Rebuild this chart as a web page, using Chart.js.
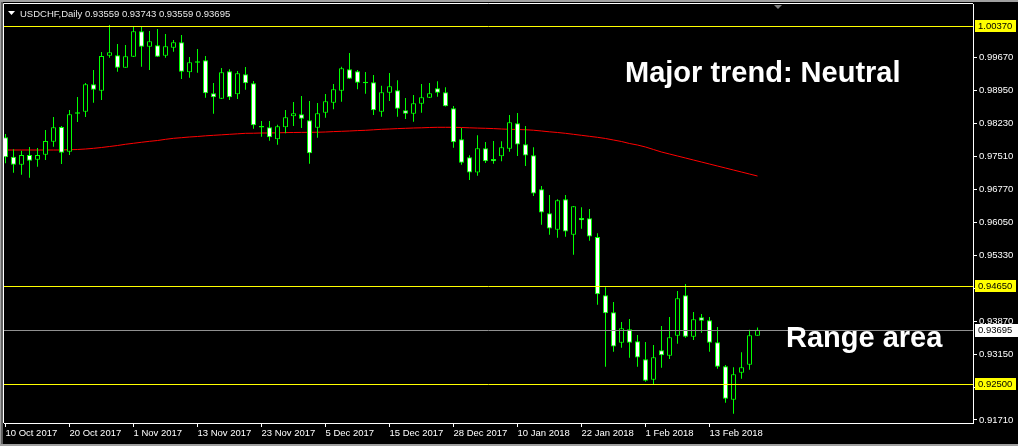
<!DOCTYPE html>
<html>
<head>
<meta charset="utf-8">
<script src="https://cdn.jsdelivr.net/npm/chart.js@4.4.0/dist/chart.umd.min.js"></script>
<style>
  html, body { margin: 0; padding: 0; background: #000; overflow: hidden; }
  #graficoVelas { display: block; }
</style>
</head>
<body>
<canvas id="graficoVelas" width="1018" height="446"></canvas>
<script>
// USDCHF daily, one value per bar (10 Oct 2017 .. 21 Feb 2018)
const opens = [
  0.97923, 0.97497, 0.97321, 0.97534, 0.97431, 0.97541, 0.97827, 0.98150, 0.97607, 0.98475,
  0.98486, 0.99088, 0.98948, 0.99717, 0.99726, 0.99453, 0.99695, 1.00254, 0.99915, 0.99946,
  0.99717, 0.99893, 1.00012, 0.99352, 0.99596, 0.99616, 0.98891, 0.98772, 0.99374, 0.98869,
  0.99308, 0.99110, 0.98170, 0.98143, 0.97879, 0.98143, 0.98385, 0.98429, 0.98297, 0.98134,
  0.98464, 0.98684, 0.98948, 0.99418, 0.99374, 0.99145, 0.99132, 0.98486, 0.98904, 0.98957,
  0.98517, 0.98442, 0.98662, 0.98794, 0.99000, 0.98913, 0.98561, 0.97879, 0.97484, 0.97150,
  0.97682, 0.97446, 0.97506, 0.97673, 0.98231, 0.97770, 0.97528, 0.96780, 0.96253, 0.95892,
  0.96560, 0.95782, 0.96149, 0.96143, 0.95732, 0.94450, 0.94076, 0.93408, 0.93703, 0.93439,
  0.93043, 0.92595, 0.93241, 0.93122, 0.93562, 0.94450, 0.93540, 0.93966, 0.93900, 0.93417,
  0.92889, 0.92155, 0.92749, 0.92924, 0.93559
];
const highs = [
  0.97996, 0.97660, 0.97629, 0.97710, 0.97688, 0.98084, 0.98370, 0.98172, 0.98524, 0.98809,
  0.99117, 0.99403, 0.99799, 1.00392, 0.99974, 0.99952, 1.00355, 1.00355, 1.00260, 1.00304,
  1.00194, 1.00062, 1.00172, 0.99689, 0.99864, 0.99711, 0.99117, 0.99447, 0.99418, 0.99381,
  0.99469, 0.99161, 0.98282, 0.98282, 0.98200, 0.98524, 0.98699, 0.98831, 0.98721, 0.98677,
  0.98875, 0.99095, 0.99475, 0.99777, 0.99403, 0.99359, 0.99293, 0.99058, 0.99337, 0.99176,
  0.98787, 0.98853, 0.99095, 0.99117, 0.99154, 0.99022, 0.98611, 0.98128, 0.97528, 0.97967,
  0.97820, 0.97842, 0.97835, 0.98414, 0.98458, 0.98172, 0.97704, 0.96853, 0.96655, 0.96560,
  0.96655, 0.96413, 0.96384, 0.96347, 0.95813, 0.94626, 0.94303, 0.93863, 0.93929, 0.93577,
  0.93423, 0.93358, 0.93775, 0.93973, 0.94545, 0.94698, 0.94083, 0.94039, 0.93973, 0.93753,
  0.92918, 0.92867, 0.93197, 0.93694, 0.93743
];
const lows = [
  0.97352, 0.97145, 0.97101, 0.97035, 0.97277, 0.97424, 0.97717, 0.97336, 0.97534, 0.98260,
  0.98370, 0.98684, 0.98743, 0.99673, 0.99365, 0.99450, 0.99690, 0.99475, 0.99403, 0.99690,
  0.99673, 0.99805, 0.99205, 0.99233, 0.99343, 0.98794, 0.98442, 0.98768, 0.98743, 0.98765,
  0.98970, 0.98112, 0.97937, 0.97849, 0.97761, 0.98011, 0.98172, 0.98128, 0.97343, 0.97915,
  0.98354, 0.98539, 0.98706, 0.99205, 0.98979, 0.98882, 0.98414, 0.98376, 0.98721, 0.98376,
  0.98326, 0.98266, 0.98464, 0.98790, 0.98816, 0.98600, 0.97695, 0.97321, 0.96985, 0.97079,
  0.97358, 0.97343, 0.97396, 0.97607, 0.97512, 0.97292, 0.96633, 0.96002, 0.95782, 0.95716,
  0.95738, 0.95343, 0.95914, 0.95650, 0.94243, 0.92880, 0.93210, 0.93298, 0.93078, 0.92880,
  0.92551, 0.92500, 0.92858, 0.93050, 0.93386, 0.93518, 0.93467, 0.93628, 0.93210, 0.92836,
  0.92089, 0.91847, 0.92617, 0.92815, 0.93559
];
const closes = [
  0.97484, 0.97321, 0.97534, 0.97409, 0.97534, 0.97842, 0.98143, 0.97585, 0.98429, 0.98442,
  0.99088, 0.98970, 0.99711, 0.99792, 0.99453, 0.99704, 1.00254, 0.99915, 1.00034, 0.99695,
  0.99924, 1.00012, 0.99365, 0.99572, 0.99563, 0.98891, 0.98803, 0.99352, 0.98803, 0.99330,
  0.99110, 0.98187, 0.98137, 0.97923, 0.98165, 0.98363, 0.98451, 0.98332, 0.97572, 0.98451,
  0.98715, 0.98979, 0.99440, 0.99212, 0.99124, 0.99112, 0.98517, 0.98913, 0.99044, 0.98552,
  0.98442, 0.98671, 0.98803, 0.98891, 0.98904, 0.98605, 0.97813, 0.97365, 0.97150, 0.97682,
  0.97396, 0.97396, 0.97704, 0.98253, 0.97765, 0.97523, 0.96688, 0.96270, 0.95918, 0.96538,
  0.95853, 0.96406, 0.96099, 0.95743, 0.94472, 0.94054, 0.93325, 0.93725, 0.93408, 0.93083,
  0.92573, 0.93087, 0.93131, 0.93527, 0.94384, 0.93540, 0.93922, 0.93892, 0.93408, 0.92880,
  0.92177, 0.92713, 0.92867, 0.93571, 0.93695
];
// moving average (red line)
const maValues = [
  0.97644, 0.97644, 0.97644, 0.97644, 0.97644, 0.97644, 0.97644, 0.97644, 0.97651, 0.97655,
  0.97666, 0.97681, 0.97699, 0.97721, 0.97743, 0.97770, 0.97792, 0.97814, 0.97835, 0.97853,
  0.97879, 0.97901, 0.97915, 0.97930, 0.97941, 0.97956, 0.97967, 0.97978, 0.97989, 0.98000,
  0.98011, 0.98013, 0.98018, 0.98018, 0.98022, 0.98027, 0.98029, 0.98031, 0.98033, 0.98035,
  0.98040, 0.98049, 0.98055, 0.98062, 0.98071, 0.98077, 0.98088, 0.98099, 0.98106, 0.98115,
  0.98121, 0.98128, 0.98132, 0.98139, 0.98143, 0.98143, 0.98143, 0.98139, 0.98132, 0.98126,
  0.98121, 0.98115, 0.98106, 0.98099, 0.98095, 0.98090, 0.98079, 0.98062, 0.98044, 0.98029,
  0.98011, 0.97989, 0.97967, 0.97945, 0.97923, 0.97897, 0.97864, 0.97831, 0.97787, 0.97754,
  0.97710, 0.97655, 0.97600, 0.97556, 0.97512, 0.97468, 0.97424, 0.97380, 0.97336, 0.97292,
  0.97248, 0.97204, 0.97160, 0.97116, 0.97072
];

const xTickIdx = [0, 8, 16, 24, 32, 40, 48, 56, 64, 72, 80, 88];
const xTickLabels = ['10 Oct 2017', '20 Oct 2017', '1 Nov 2017', '13 Nov 2017', '23 Nov 2017', '5 Dec 2017',
                     '15 Dec 2017', '28 Dec 2017', '10 Jan 2018', '22 Jan 2018', '1 Feb 2018', '13 Feb 2018'];
const yTicks = [0.99670, 0.98950, 0.98230, 0.97510, 0.96770, 0.96050, 0.95330, 0.94610, 0.93870, 0.93150, 0.92430, 0.91710];
const levels = [1.00370, 0.94650, 0.92500];
const bidPrice = 0.93695;
const header = 'USDCHF,Daily 0.93559 0.93743 0.93559 0.93695';

const FONT = 'Liberation Sans';
Chart.defaults.font.family = FONT;
Chart.defaults.font.size = 9.5;

const bodies = opens.map((o, i) => ({ x: i, y: [Math.min(o, closes[i]), Math.max(o, closes[i])] }));
const wicks = lows.map((l, i) => ({ x: i, y: [l, highs[i]] }));
const maLine = maValues.map((v, i) => ({ x: i, y: v }));
const bodyColors = opens.map((o, i) => closes[i] < o ? '#ffffff' : '#000000');

const overlay = {
    id: 'overlay',
    beforeDraw(chart) {
        const ctx = chart.ctx;
        ctx.save();
        ctx.fillStyle = '#000';
        ctx.fillRect(0, 0, chart.width, chart.height);
        ctx.fillStyle = '#a0a0a0';
        ctx.fillRect(0, 0, chart.width, 2);
        ctx.fillRect(0, 0, 1, chart.height);
        ctx.fillStyle = '#606060';
        ctx.fillRect(1, 2, 2, chart.height);
        ctx.fillStyle = '#a0a0a0';
        ctx.fillRect(0, chart.height - 2, chart.width, 2);
        ctx.restore();
    },
    afterDatasetsDraw(chart) {
        const ctx = chart.ctx;
        const a = chart.chartArea;
        const y = chart.scales.y;
        ctx.save();
        ctx.lineWidth = 1;
        ctx.strokeStyle = '#909090';
        let py = Math.round(y.getPixelForValue(bidPrice)) + 0.5;
        ctx.beginPath(); ctx.moveTo(a.left, py); ctx.lineTo(a.right, py); ctx.stroke();
        ctx.strokeStyle = '#ffff00';
        levels.forEach(v => {
            const p = Math.round(y.getPixelForValue(v)) + 0.5;
            ctx.beginPath(); ctx.moveTo(a.left, p); ctx.lineTo(a.right, p); ctx.stroke();
        });
        ctx.restore();
    },
    afterDraw(chart) {
        const ctx = chart.ctx;
        const a = chart.chartArea;
        const y = chart.scales.y;
        ctx.save();
        // frame top / left
        ctx.strokeStyle = '#ffffff';
        ctx.lineWidth = 1;
        ctx.beginPath();
        ctx.moveTo(a.left - 0.5, a.bottom);
        ctx.lineTo(a.left - 0.5, a.top - 0.5);
        ctx.lineTo(a.right, a.top - 0.5);
        ctx.stroke();

        // price boxes on the axis
        ctx.font = '9.5px "' + FONT + '"';
        ctx.textBaseline = 'middle';
        ctx.textAlign = 'left';
        levels.forEach(v => {
            const p = Math.round(y.getPixelForValue(v));
            ctx.fillStyle = '#ffff00';
            ctx.fillRect(a.right + 2, p - 6, 41, 12);
            ctx.fillStyle = '#000';
            ctx.fillText(v.toFixed(5), a.right + 5, p + 0.5);
        });
        const pb = Math.round(y.getPixelForValue(bidPrice));
        ctx.fillStyle = '#ffffff';
        ctx.fillRect(a.right + 2, pb - 6, 43, 13);
        ctx.fillStyle = '#000';
        ctx.fillText(bidPrice.toFixed(5), a.right + 5, pb + 0.5);

        // header
        ctx.fillStyle = '#ffffff';
        ctx.beginPath();
        ctx.moveTo(8, 11); ctx.lineTo(15, 11); ctx.lineTo(11.5, 15); ctx.closePath();
        ctx.fill();
        ctx.textBaseline = 'alphabetic';
        ctx.fillStyle = '#e8e8e8';
        ctx.fillText(header, 20, 16.5);

        // shift marker
        ctx.fillStyle = '#808080';
        ctx.beginPath();
        ctx.moveTo(774, 5); ctx.lineTo(782, 5); ctx.lineTo(778, 9); ctx.closePath();
        ctx.fill();

        // annotations
        ctx.fillStyle = '#ffffff';
        ctx.font = 'bold 29px "' + FONT + '"';
        ctx.fillText('Major trend: Neutral', 625, 82);
        ctx.fillText('Range area', 786, 347);
        ctx.restore();
    }
};

const ctx = document.getElementById('graficoVelas').getContext('2d');
new Chart(ctx, {
    type: 'bar',
    data: {
        datasets: [{
            label: 'body',
            data: bodies,
            backgroundColor: bodyColors,
            borderColor: '#00ff00',
            borderWidth: 1,
            borderSkipped: false,
            barThickness: 5,
            grouped: false,
            inflateAmount: 0,
            order: 1
        }, {
            label: 'wick',
            data: wicks,
            backgroundColor: '#00ff00',
            borderWidth: 0,
            barThickness: 1,
            grouped: false,
            inflateAmount: 0,
            order: 2
        }, {
            type: 'line',
            label: 'MA',
            data: maLine,
            borderColor: '#ff0000',
            borderWidth: 1,
            pointRadius: 0,
            tension: 0,
            fill: false,
            order: 3
        }]
    },
    options: {
        responsive: false,
        animation: false,
        devicePixelRatio: 1,
        events: [],
        layout: { padding: { left: 4, top: 4, right: 0, bottom: 0 } },
        plugins: {
            legend: { display: false },
            tooltip: { enabled: false }
        },
        scales: {
            x: {
                type: 'linear',
                offset: false,
                min: -0.1875,
                max: 120.9375,
                afterFit(s) { s.height = 23; s.paddingLeft = 0; s.paddingRight = 0; },
                afterBuildTicks(s) { s.ticks = xTickIdx.map(v => ({ value: v })); },
                ticks: {
                    color: '#ffffff',
                    align: 'start',
                    maxRotation: 0,
                    minRotation: 0,
                    autoSkip: false,
                    padding: 1,
                    callback: (v, i) => xTickLabels[i]
                },
                grid: { offset: false, drawOnChartArea: false, drawTicks: true, tickLength: 4, color: '#ffffff' },
                border: { display: true, color: '#ffffff', width: 1 }
            },
            y: {
                type: 'linear',
                position: 'right',
                min: 0.916428,
                max: 1.008537,
                afterFit(s) { s.width = 45; s.paddingTop = 0; s.paddingBottom = 0; },
                afterBuildTicks(s) { s.ticks = yTicks.map(v => ({ value: v })); },
                ticks: {
                    color: '#ffffff',
                    padding: 2,
                    callback: v => v.toFixed(5)
                },
                grid: { drawOnChartArea: false, drawTicks: true, tickLength: 4, color: '#ffffff' },
                border: { display: true, color: '#ffffff', width: 1 }
            }
        }
    },
    plugins: [overlay]
});
</script>
</body>
</html>
